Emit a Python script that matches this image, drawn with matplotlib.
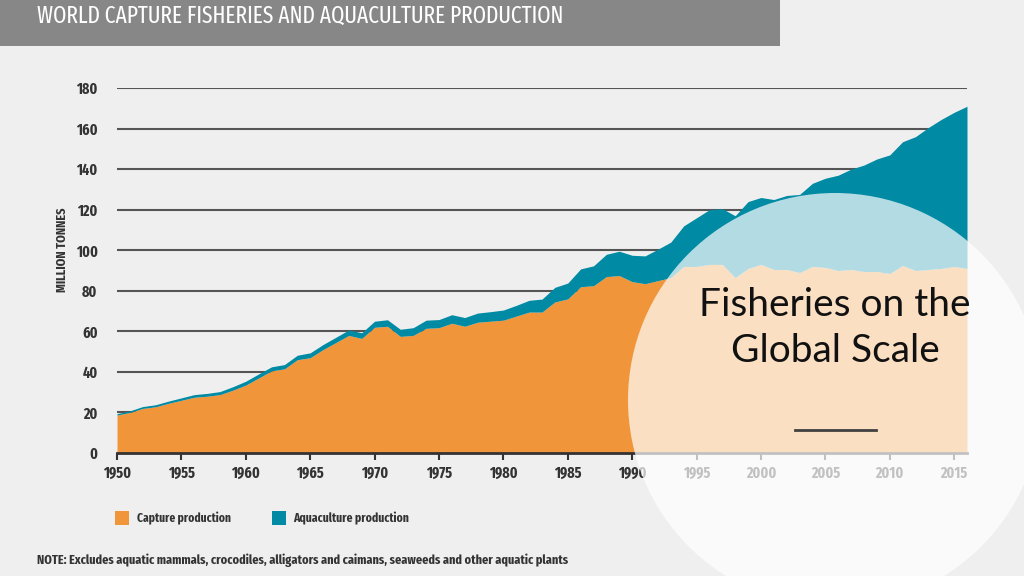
import os
import matplotlib
matplotlib.use("Agg")
from matplotlib import pyplot as plt
from matplotlib import font_manager
from matplotlib.font_manager import FontProperties
from matplotlib.patches import Circle, Rectangle
from matplotlib.lines import Line2D

# data (million tonnes)
years = list(range(1950, 2017))
capture = [18.7, 20.0, 22.0, 22.8, 24.5, 26.0, 27.5, 28.0, 28.8, 31.0,
           33.5, 37.0, 40.5, 41.5, 46.0, 47.0, 51.0, 54.5, 58.0, 56.5,
           62.0, 62.5, 57.5, 58.0, 61.5, 61.8, 64.0, 62.5, 64.5, 65.0,
           65.5, 67.5, 69.5, 69.5, 74.5, 76.0, 82.0, 82.5, 87.0, 87.5,
           84.5, 83.5, 85.0, 86.5, 92.0, 92.0, 93.0, 93.0, 86.5, 91.0,
           93.0, 90.5, 90.5, 89.0, 92.0, 91.5, 90.0, 90.5, 89.5, 89.5,
           88.5, 92.5, 90.0, 90.5, 91.0, 92.0, 91.0]
aquaculture = [0.7, 0.8, 0.9, 1.0, 1.1, 1.2, 1.3, 1.4, 1.5, 1.7,
               1.9, 2.0, 2.0, 2.1, 2.2, 2.4, 2.5, 2.6, 2.7, 2.8,
               3.0, 3.2, 3.5, 3.8, 4.0, 4.0, 4.2, 4.3, 4.5, 4.7,
               5.0, 5.3, 5.8, 6.4, 7.2, 7.8, 8.8, 9.8, 11.0, 12.0,
               13.0, 13.7, 15.5, 17.5, 20.0, 24.0, 27.0, 27.5, 30.5, 33.0,
               33.0, 34.5, 36.5, 38.5, 41.0, 44.0, 47.0, 49.5, 52.5, 55.5,
               58.5, 61.0, 66.0, 70.0, 73.5, 76.0, 80.0]
total = [c + a for c, a in zip(capture, aquaculture)]

y_ticks = [0, 20, 40, 60, 80, 100, 120, 140, 160, 180]
x_ticks = list(range(1950, 2016, 5))

title = "WORLD CAPTURE FISHERIES AND AQUACULTURE PRODUCTION"
note = ("NOTE: Excludes aquatic mammals, crocodiles, alligators and caimans, "
        "seaweeds and other aquatic plants")
legend_labels = ["Capture production", "Aquaculture production"]
overlay_title = "Fisheries on the\nGlobal Scale"

ORANGE = "#f0953a"
TEAL = "#008aa3"
BG = "#efefef"
INK = "#333333"


def condensed_font(bold, extra=False):
    # look for any narrow / condensed face that is installed
    found = []
    for f in font_manager.fontManager.ttflist:
        base = os.path.basename(f.fname)
        low = base.lower()
        if "italic" in low or "oblique" in low:
            continue
        if not ("condensed" in low or "narrow" in low):
            continue
        if "semicondensed" in low:
            rank = 2
        elif "extracondensed" in low:
            rank = 0 if extra else 1
        else:
            rank = 1 if extra else 0
        is_bold = "bold" in low and "semibold" not in low and "extrabold" not in low
        plain = not any(w in low for w in ["bold", "light", "thin", "black", "medium"])
        if bold and not is_bold:
            rank += 4
        if not bold and not plain:
            rank += 4
        found.append((rank, base, f.fname))
    if found:
        found.sort()
        return FontProperties(fname=found[0][2])
    return FontProperties(family="DejaVu Sans", weight="bold" if bold else "normal")


TITLE_FONT = condensed_font(False, extra=True)
COND_B = condensed_font(True, extra=True)


def fit_width(txt, width_px, renderer):
    w = txt.get_window_extent(renderer).width
    txt.set_fontsize(txt.get_fontsize() * width_px / w)


fig = plt.figure(figsize=(10.24, 5.76), dpi=100, facecolor=BG)
renderer = fig.canvas.get_renderer()

# title bar
fig.add_artist(Rectangle((0, 1 - 46 / 576), 780 / 1024, 46 / 576,
                         transform=fig.transFigure, facecolor="#878787",
                         edgecolor="none", zorder=1))
t = fig.text(37 / 1024, 1 - 16 / 576, title, fontproperties=TITLE_FONT,
             fontsize=18, color="white", va="center", ha="left")
fit_width(t, 528, renderer)

ax = fig.add_axes([117 / 1024, 1 - 453 / 576, 850 / 1024, 365 / 576])
ax.set_facecolor(BG)
for yv in y_ticks[1:]:
    ax.axhline(yv, color="#555555", lw=1.5, zorder=1)
ax.fill_between(years, 0, capture, color=ORANGE, lw=0, zorder=2)
ax.fill_between(years, capture, total, color=TEAL, lw=0, zorder=2)

ax.set_xlim(1950, 2016)
ax.set_ylim(0, 180)
for side in ["top", "right", "left"]:
    ax.spines[side].set_visible(False)
ax.spines["bottom"].set_color(INK)
ax.spines["bottom"].set_linewidth(2)
ax.spines["bottom"].set_zorder(3)
ax.set_yticks(y_ticks)
ax.set_xticks(x_ticks)
ax.tick_params(axis="y", length=0, pad=14, labelcolor=INK)
ax.tick_params(axis="x", length=5, width=1.5, color=INK, pad=4, labelcolor=INK)
for lab in ax.get_xticklabels() + ax.get_yticklabels():
    lab.set_fontproperties(COND_B)
    lab.set_fontsize(11)

# y-axis title, sits a little above the middle of the axis
yl = fig.text(62 / 1024, 1 - 250 / 576, "MILLION TONNES", fontproperties=COND_B,
              fontsize=9, color=INK, rotation=90, ha="center", va="center")
h = yl.get_window_extent(renderer).height
yl.set_fontsize(yl.get_fontsize() * 85 / h)

# legend
for x0, colour in [(115, ORANGE), (272, TEAL)]:
    fig.add_artist(Rectangle((x0 / 1024, 1 - 525 / 576), 14 / 1024, 14 / 576,
                             transform=fig.transFigure, facecolor=colour,
                             edgecolor="none"))
lt1 = fig.text(137 / 1024, 1 - 518 / 576, legend_labels[0], fontproperties=COND_B,
               fontsize=10, color=INK, va="center")
fit_width(lt1, 94, renderer)
lt2 = fig.text(293 / 1024, 1 - 518 / 576, legend_labels[1], fontproperties=COND_B,
               fontsize=10, color=INK, va="center")
fit_width(lt2, 115, renderer)

nt = fig.text(37 / 1024, 1 - 560 / 576, note, fontproperties=COND_B,
              fontsize=10, color=INK, va="center")
fit_width(nt, 528, renderer)

# translucent circle overlay
fig.add_artist(Circle((8.35, 5.76 - 4.0), 2.07, transform=fig.dpi_scale_trans,
                      facecolor="white", alpha=0.7, edgecolor="none",
                      zorder=10))
ot = fig.text(835 / 1024, 1 - 328 / 576, overlay_title,
              family=["Lato", "DejaVu Sans"], fontsize=28, color="#111111",
              ha="center", va="center", linespacing=1.35, zorder=11)
fig.add_artist(Line2D([795 / 1024, 876 / 1024], [1 - 430 / 576] * 2,
                      transform=fig.transFigure, color="#404040", lw=2,
                      zorder=11))

fig.savefig("out.png", dpi=100, facecolor=BG)
